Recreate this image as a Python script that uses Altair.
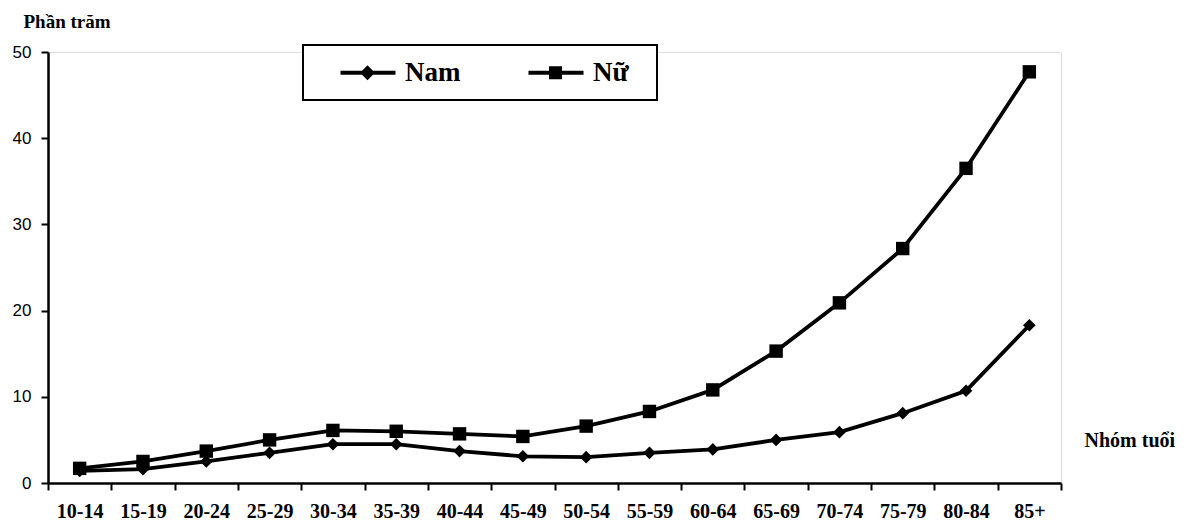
import altair as alt
import pandas as pd

ages = ["10-14", "15-19", "20-24", "25-29", "30-34", "35-39", "40-44", "45-49",
        "50-54", "55-59", "60-64", "65-69", "70-74", "75-79", "80-84", "85+"]
nam = [1.4, 1.6, 2.5, 3.5, 4.5, 4.5, 3.7, 3.1, 3.0, 3.5, 3.9, 5.0, 5.9, 8.1, 10.7, 18.3]
nu = [1.7, 2.5, 3.7, 5.0, 6.1, 6.0, 5.7, 5.4, 6.6, 8.3, 10.8, 15.3, 20.9, 27.2, 36.5, 47.7]
series = ["Nam", "Nữ"]
y_ticks = [0, 10, 20, 30, 40, 50]

rows = []
for s, vals in zip(series, [nam, nu]):
    for a, v in zip(ages, vals):
        rows.append({"age": a, "value": v, "series": s, "key": s})
df = pd.DataFrame(rows)

SERIF = "Liberation Serif"
SANS = "Liberation Sans"

nam_path = "M1.0,-0.2 L6.5,-0.2 L6.5,0.2 L1.0,0.2 Z M3.7,-0.75 L4.45,0 L3.7,0.75 L2.95,0 Z"
nu_path = "M1.0,-0.2 L6.5,-0.2 L6.5,0.2 L1.0,0.2 Z M3.05,-0.65 L4.35,-0.65 L4.35,0.65 L3.05,0.65 Z"

x_enc = alt.X(
    "age:N", sort=ages,
    scale=alt.Scale(paddingInner=0, paddingOuter=0),
    axis=alt.Axis(
        title="Nhóm tuổi", titleAngle=0, titleX=1036, titleY=-43,
        titleAlign="left", titleBaseline="middle",
        titleFont=SERIF, titleFontSize=20, titleFontWeight="bold", titleColor="black",
        labelFont=SERIF, labelFontSize=20, labelFontWeight="bold", labelColor="black",
        labelAngle=0, labelPadding=11, tickBand="extent",
        domainColor="black", domainWidth=2.5, tickColor="black", tickWidth=2, tickSize=7,
        grid=False,
    ),
)
y_enc = alt.Y(
    "value:Q",
    scale=alt.Scale(domain=[0, 50], nice=False, zero=True),
    axis=alt.Axis(
        values=y_ticks, title="Phần trăm", titleAngle=0, titleX=-25, titleY=-25,
        titleAlign="left", titleBaseline="alphabetic",
        titleFont=SERIF, titleFontSize=19, titleFontWeight="bold", titleColor="black",
        labelFont=SANS, labelFontSize=17, labelColor="black", labelPadding=10,
        domainColor="black", domainWidth=2.5, tickColor="black", tickWidth=2, tickSize=7,
        grid=False,
    ),
)

legend = alt.Legend(
    title="\u00a0", titleOrient="right", titlePadding=14, titleFontSize=20,
    orient="none", legendX=255, legendY=-7, direction="horizontal",
    columns=2, columnPadding=44, padding=14, strokeColor="black", fillColor="white",
    symbolSize=400, labelOffset=61,
    symbolFillColor="black", symbolStrokeColor="black", symbolStrokeWidth=0.5,
    symbolOpacity=1,
    labelFont=SERIF, labelFontSize=27, labelFontWeight="bold", labelColor="black",
)

lines = alt.Chart(df).mark_line(strokeWidth=3.8, interpolate="linear", color="black").encode(
    x=x_enc, y=y_enc, detail="series:N",
)

points = alt.Chart(df).mark_point(filled=True, opacity=1, color="black").encode(
    x=x_enc, y=y_enc,
    shape=alt.Shape("series:N", scale=alt.Scale(domain=series, range=["diamond", "square"]),
                    legend=None),
    size=alt.Size("series:N", scale=alt.Scale(domain=series, range=[160, 180]), legend=None),
)

legend_layer = alt.Chart(df).transform_filter("datum.value < 0").mark_point(
    filled=True, opacity=1, color="black"
).encode(
    x=x_enc, y=y_enc,
    shape=alt.Shape("key:N", scale=alt.Scale(domain=series, range=[nam_path, nu_path]),
                    legend=legend),
)

chart = (lines + points + legend_layer).resolve_scale(
    shape="independent", size="independent"
).properties(
    width=1013, height=431,
    autosize=alt.AutoSizeParams(type="none"),
    padding={"left": 40, "top": 44, "right": 116, "bottom": 40},
).configure_view(stroke=None).configure(background="white").configure_legend(strokeWidth=2)

chart.save("out.html", embed_options={"renderer": "svg", "actions": False})
